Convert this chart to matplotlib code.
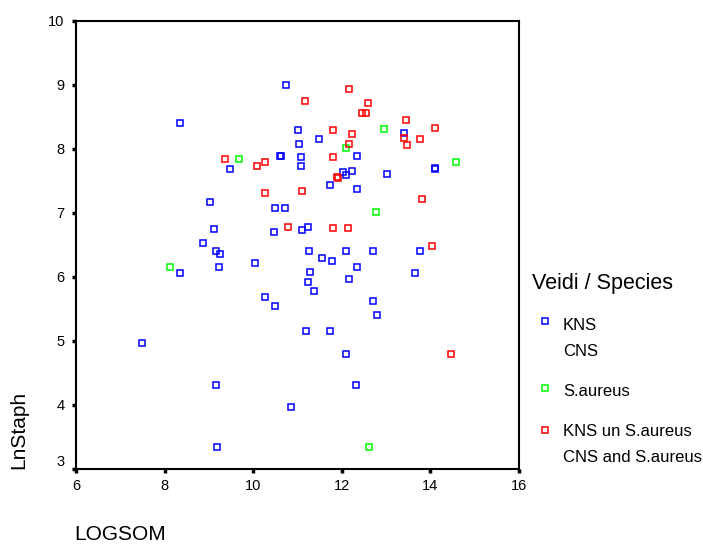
import matplotlib
matplotlib.use("Agg")
import matplotlib.pyplot as plt
from matplotlib.lines import Line2D

plt.rcParams['font.family'] = ['Liberation Sans', 'DejaVu Sans']

# KNS / CNS (blue)
kns_x = [10.75, 8.34, 11.00, 11.03, 9.48, 10.60, 10.63, 11.07, 11.07, 9.02, 10.50, 10.72,
         9.12, 10.47, 11.10, 11.24, 8.87, 9.15, 9.26, 8.34, 9.23, 10.04, 11.27, 11.29,
         11.23, 10.26, 10.50, 11.20, 7.49, 9.15, 10.86, 9.18,
         11.49, 13.40, 12.34, 14.11, 14.11, 12.02, 12.09, 12.24, 13.01, 11.74, 12.34,
         12.09, 12.70, 13.76, 11.56, 11.77, 12.34, 13.65, 12.16, 11.38, 12.70, 12.80,
         11.74, 12.09, 12.31]
kns_y = [9.00, 8.40, 8.29, 8.08, 7.68, 7.89, 7.89, 7.87, 7.73, 7.17, 7.08, 7.08,
         6.75, 6.71, 6.73, 6.78, 6.53, 6.41, 6.36, 6.06, 6.15, 6.22, 6.41, 6.08,
         5.92, 5.69, 5.55, 5.16, 4.97, 4.32, 3.97, 3.34,
         8.15, 8.25, 7.89, 7.71, 7.68, 7.64, 7.59, 7.66, 7.61, 7.43, 7.38,
         6.41, 6.41, 6.41, 6.29, 6.25, 6.15, 6.06, 5.97, 5.78, 5.62, 5.41,
         5.16, 4.79, 4.32]

# S.aureus (green)
sa_x = [9.69, 8.12, 12.95, 12.09, 14.57, 12.77, 12.62]
sa_y = [7.84, 6.15, 8.31, 8.01, 7.80, 7.01, 3.34]

# KNS un S.aureus (red)
mix_x = [11.18, 9.36, 10.08, 10.26, 10.26, 11.10, 10.79, 12.16, 12.59, 12.45, 12.54,
         13.46, 14.11, 11.81, 12.23, 13.40, 13.77, 13.47, 12.16, 11.81, 11.89, 11.92,
         13.80, 11.81, 12.13, 14.04, 14.47]
mix_y = [8.75, 7.84, 7.73, 7.80, 7.31, 7.34, 6.78, 8.93, 8.72, 8.56, 8.56,
         8.45, 8.33, 8.29, 8.23, 8.17, 8.15, 8.06, 8.08, 7.87, 7.56, 7.54,
         7.22, 6.76, 6.76, 6.48, 4.79]

x_ticks = [6, 8, 10, 12, 14, 16]
y_ticks = [3, 4, 5, 6, 7, 8, 9, 10]

legend_title = "Veidi / Species"
legend_labels = [("KNS", "CNS"), ("S.aureus", None), ("KNS un S.aureus", "CNS and S.aureus")]
colors = ["#0000ff", "#00ff00", "#ff0000"]

W, H = 703, 545
fig = plt.figure(figsize=(W / 100, H / 100), dpi=100)
ax = fig.add_axes([76 / W, 1 - 469 / H, (519 - 76) / W, (469 - 21) / H])

mk = dict(marker='s', linestyle='none', markersize=5, markerfacecolor='none', markeredgewidth=1.1)
ax.plot(kns_x, kns_y, markeredgecolor=colors[0], **mk)
ax.plot(sa_x, sa_y, markeredgecolor=colors[1], **mk)
ax.plot(mix_x, mix_y, markeredgecolor=colors[2], **mk)

ax.set_xlim(6, 16)
ax.set_ylim(3, 10)
ax.set_xticks(x_ticks)
ax.set_yticks(y_ticks)
ax.tick_params(direction='out', length=3, width=2.5, labelsize=10.5, color='black')
ax.tick_params(axis='y', pad=5.3)
ax.tick_params(axis='x', pad=4.5)
ax.get_yticklabels()[0].set_va('bottom')
for s in ax.spines.values():
    s.set_linewidth(1.5)
    s.set_color('black')

fig.text(19 / W, 1 - 430 / H, "LnStaph", rotation=90, ha='center', va='center', fontsize=15)
fig.text(74 / W, 1 - 535 / H, "LOGSOM", ha='left', va='center', fontsize=15)

# legend
fig.text(532 / W, 1 - 283 / H, legend_title, ha='left', va='center', fontsize=15.5)
rows = [(321, 325), (388, 392), (430, 432)]
for (my, ty), (l1, l2), c in zip(rows, legend_labels, colors):
    fig.add_artist(Line2D([545 / W], [1 - my / H], transform=fig.transFigure,
                          markeredgecolor=c, **mk))
    fig.text(563 / W, 1 - ty / H, l1, ha='left', va='center', fontsize=12)
    if l2:
        fig.text(563 / W, 1 - (ty + 26) / H, l2, ha='left', va='center', fontsize=12)

fig.savefig("out.png", dpi=100)
